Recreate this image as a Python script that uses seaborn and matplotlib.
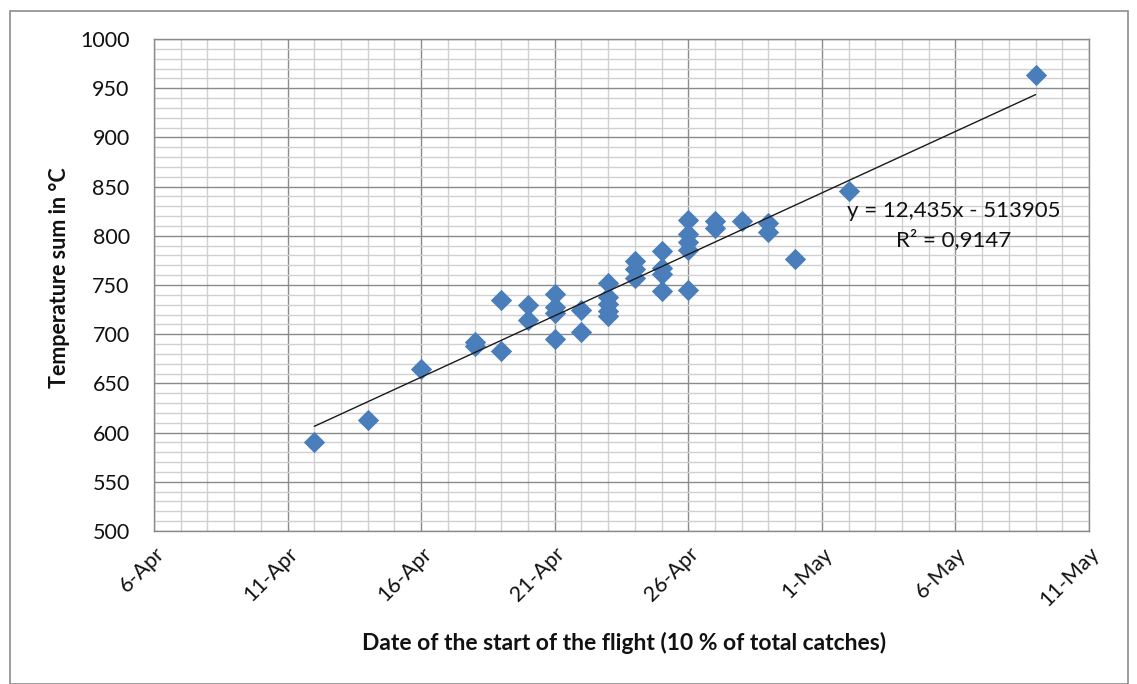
import numpy as np
import pandas as pd
import matplotlib
matplotlib.use("Agg")
import matplotlib.pyplot as plt
import matplotlib.dates as mdates
from matplotlib.ticker import MultipleLocator, FixedLocator, FuncFormatter
from matplotlib.patches import Rectangle
import seaborn as sns

# ---- data ----
dates = ["2013-04-12", "2013-04-14", "2013-04-16",
         "2013-04-18", "2013-04-18",
         "2013-04-19", "2013-04-19",
         "2013-04-20", "2013-04-20",
         "2013-04-21", "2013-04-21", "2013-04-21", "2013-04-21",
         "2013-04-22", "2013-04-22",
         "2013-04-23", "2013-04-23", "2013-04-23", "2013-04-23", "2013-04-23",
         "2013-04-24", "2013-04-24", "2013-04-24",
         "2013-04-25", "2013-04-25", "2013-04-25", "2013-04-25",
         "2013-04-26", "2013-04-26", "2013-04-26", "2013-04-26", "2013-04-26",
         "2013-04-27", "2013-04-27",
         "2013-04-28",
         "2013-04-29", "2013-04-29",
         "2013-04-30",
         "2013-05-02",
         "2013-05-09"]
temp_sum = [590, 613, 665,
            692, 688,
            735, 683,
            730, 714,
            741, 728, 722, 695,
            725, 702,
            752, 738, 731, 724, 718,
            774, 766, 757,
            785, 767, 761, 744,
            816, 802, 794, 786, 745,
            815, 808,
            815,
            813, 804,
            776,
            846,
            963]
x_tick_dates = ["2013-04-06", "2013-04-11", "2013-04-16", "2013-04-21", "2013-04-26",
                "2013-05-01", "2013-05-06", "2013-05-11"]
y_ticks = [500, 550, 600, 650, 700, 750, 800, 850, 900, 950, 1000]
equation_line = "y = 12,435x - 513905"
r2_line = "R² = 0,9147"
x_label = "Date of the start of the flight (10 % of total catches)"
y_label = "Temperature sum in °C"

# ---- build frame ----
df = pd.DataFrame({"date": pd.to_datetime(dates), "temp": temp_sum})
df["x"] = mdates.date2num(df["date"])
xt = mdates.date2num(pd.to_datetime(x_tick_dates))

sns.set_style("white")
plt.rcParams["font.family"] = ["Lato", "DejaVu Sans"]

W, H = 1137, 684
fig = plt.figure(figsize=(W / 100, H / 100), dpi=100)
ax = fig.add_axes([154 / W, 1 - 531 / H, (1089 - 154) / W, (531 - 39) / H])

# outer chart border
fig.patches.append(Rectangle((10 / W, 0), (1128 - 10) / W, 1 - 11 / H,
                             transform=fig.transFigure, fill=False,
                             edgecolor="#8c8c8c", linewidth=1.2, zorder=0))

sns.regplot(data=df, x="x", y="temp", ax=ax, ci=None, truncate=True,
            marker="D",
            scatter_kws=dict(s=118, color="#4a7ebb", linewidths=0, alpha=1, zorder=3),
            line_kws=dict(color="#1a1a1a", linewidth=1.0, zorder=4))

ax.set_xlim(xt[0], xt[-1])
ax.set_ylim(y_ticks[0], y_ticks[-1])

ax.xaxis.set_major_locator(FixedLocator(xt))
ax.xaxis.set_minor_locator(MultipleLocator(1))
ax.xaxis.set_major_formatter(FuncFormatter(
    lambda v, p: "{}-{}".format(mdates.num2date(v).day, mdates.num2date(v).strftime("%b"))))
ax.yaxis.set_major_locator(FixedLocator(y_ticks))
ax.yaxis.set_minor_locator(MultipleLocator(10))

ax.grid(which="major", color="#8a8a8a", linewidth=1.0, zorder=0)
ax.grid(which="minor", color="#d0d0d0", linewidth=1.0, zorder=0)
ax.set_axisbelow(True)

for s in ax.spines.values():
    s.set_color("#8a8a8a")
    s.set_linewidth(1.0)

ax.tick_params(axis="both", which="major", direction="out", length=6, width=1,
               color="#8a8a8a", labelsize=15.5, labelcolor="#111111")
ax.tick_params(axis="y", which="major", pad=11.5)
ax.tick_params(axis="x", which="major", pad=3)
ax.tick_params(axis="both", which="minor", length=0)
plt.setp(ax.get_xticklabels(), rotation=45, ha="right", rotation_mode="anchor")

ax.set_xlabel("")
ax.set_ylabel("")
fig.text(624 / W, 1 - 643 / H, x_label, fontsize=16.5, fontweight="bold",
         ha="center", va="center", color="#111111")
fig.text(59 / W, 1 - 278 / H, y_label, fontsize=15.5, fontweight="bold",
         ha="center", va="center", rotation=90, color="#111111")

fig.text(954 / W, 1 - 211 / H, equation_line, fontsize=16, ha="center",
         va="center", color="#111111")
fig.text(954 / W, 1 - 240 / H, r2_line, fontsize=16, ha="center",
         va="center", color="#111111")

fig.savefig("out.png", dpi=100, facecolor="white")
